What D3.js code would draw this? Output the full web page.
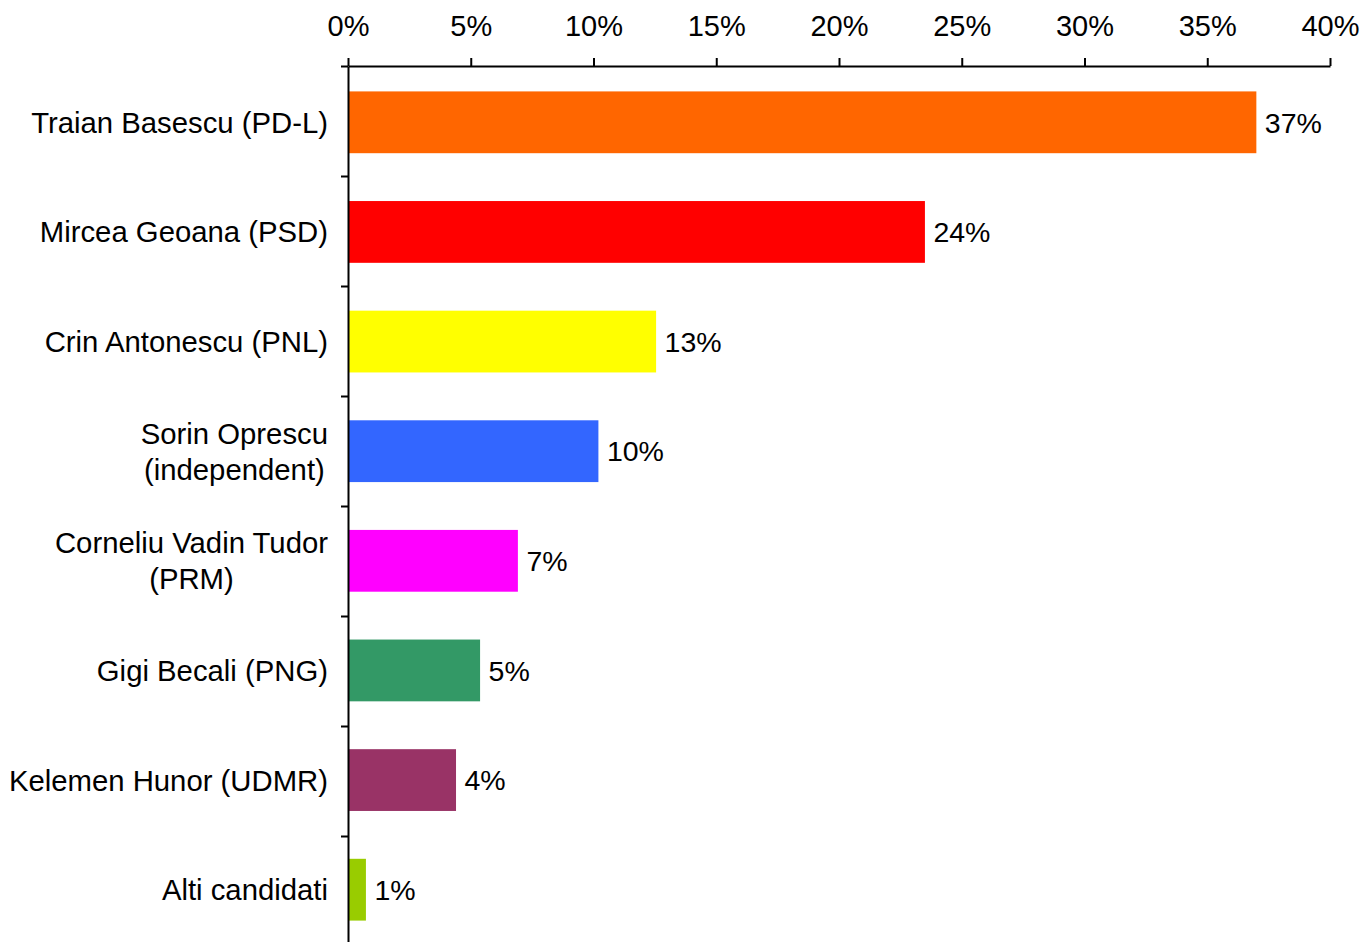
<!DOCTYPE html>
<html>
<head>
<meta charset="utf-8">
<script src="https://cdn.jsdelivr.net/npm/d3@7"></script>
<style>
  html, body { margin: 0; padding: 0; background: #fff; }
  svg { display: block; }
  text { font-family: "Liberation Sans", Arial, sans-serif; fill: #000; }
</style>
</head>
<body>
<svg id="chart" width="1364" height="942"></svg>
<script>
const categories = [
  ["Traian Basescu (PD-L)"],
  ["Mircea Geoana (PSD)"],
  ["Crin Antonescu (PNL)"],
  ["Sorin Oprescu", "(independent)"],
  ["Corneliu Vadin Tudor", "(PRM)"],
  ["Gigi Becali (PNG)"],
  ["Kelemen Hunor (UDMR)"],
  ["Alti candidati"]
];
const values = [37.0, 23.5, 12.55, 10.2, 6.92, 5.38, 4.4, 0.73];
const colors = ["#FF6600", "#FF0000", "#FFFF00", "#3366FF", "#FF00FF", "#339966", "#993366", "#99CC00"];
const xTicks = [0, 5, 10, 15, 20, 25, 30, 35, 40];

const svg = d3.select("#chart");
const margin = { left: 348, right: 34, top: 66 };
const plotW = 1330 - 348;
const step = 110;
const plotH = step * categories.length;

const g = svg.append("g").attr("transform", `translate(${margin.left},${margin.top})`);

const x = d3.scaleLinear().domain([0, 40]).range([0, plotW]);
const idx = d3.range(categories.length);
const y = d3.scaleBand().domain(idx).range([0, plotH]).paddingInner(0.4364).paddingOuter(0.2318);
const yEdges = d3.scaleLinear().domain([0, categories.length]).range([0, plotH]);

// bars
g.selectAll("rect.bar").data(idx).join("rect")
  .attr("class", "bar")
  .attr("x", x(0))
  .attr("y", i => y(i))
  .attr("width", i => x(values[i]) - x(0))
  .attr("height", y.bandwidth())
  .attr("fill", i => colors[i]);

// value labels
g.selectAll("text.val").data(idx).join("text")
  .attr("class", "val")
  .attr("x", i => x(values[i]) + 8.5)
  .attr("y", i => y(i) + y.bandwidth() / 2)
  .attr("dy", "0.36em")
  .style("font-size", "28.5px")
  .text(i => d3.format(".0f")(values[i]) + "%");

// top axis
const xAxis = d3.axisTop(x).tickValues(xTicks).tickFormat(d => d + "%")
  .tickSizeInner(8).tickSizeOuter(0).tickPadding(22);
const xa = g.append("g").call(xAxis);
xa.select(".domain").attr("stroke", "#000").attr("stroke-width", 2);
xa.selectAll(".tick line").attr("stroke", "#000").attr("stroke-width", 2);
xa.selectAll(".tick text").style("font-size", "29px").attr("fill", "#000");

// left axis with ticks at category boundaries
const yAxis = d3.axisLeft(yEdges).tickValues(d3.range(0, categories.length + 1))
  .tickFormat("").tickSizeInner(7).tickSizeOuter(0);
const ya = g.append("g").call(yAxis);
ya.select(".domain").attr("stroke", "#000").attr("stroke-width", 2);
ya.selectAll(".tick line").attr("stroke", "#000").attr("stroke-width", 2);

// category labels
const lineH = 36;
idx.forEach(i => {
  const lines = categories[i];
  const cy = y(i) + y.bandwidth() / 2;
  const grp = g.append("g");
  const texts = lines.map((ln, k) => grp.append("text")
    .style("font-size", "29.3px")
    .attr("text-anchor", "middle")
    .attr("y", cy + 10.5 + (k - (lines.length - 1) / 2) * lineH)
    .text(ln));
  const widths = texts.map(t => t.node().getComputedTextLength());
  const maxW = d3.max(widths);
  const centerX = -20 - maxW / 2;
  texts.forEach(t => t.attr("x", centerX));
});
</script>
</body>
</html>
